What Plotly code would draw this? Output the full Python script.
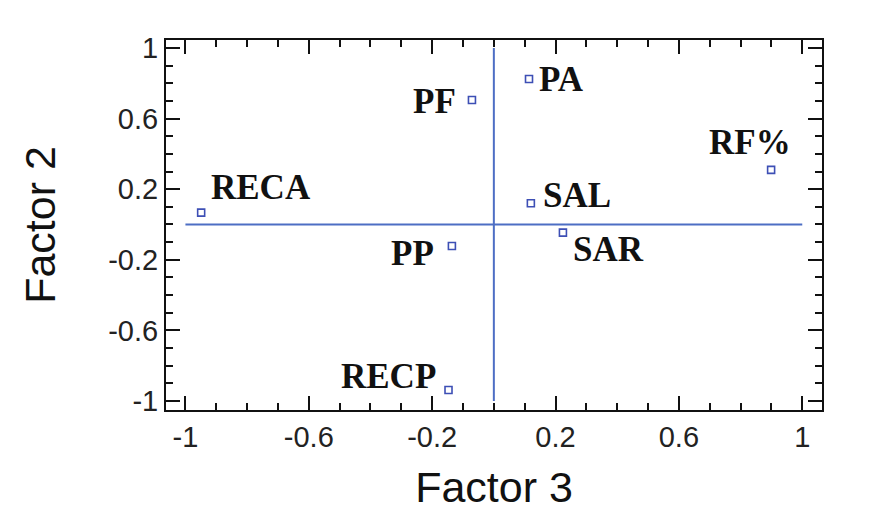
import plotly.graph_objects as go

# Data
variables = ["RECA", "PF", "PA", "RF%", "SAL", "SAR", "PP", "RECP"]
factor3 = [-0.949, -0.071, 0.114, 0.899, 0.120, 0.224, -0.136, -0.147]
factor2 = [0.067, 0.705, 0.824, 0.309, 0.120, -0.046, -0.122, -0.938]

tick_values = [-1, -0.6, -0.2, 0.2, 0.6, 1]
tick_labels = ["-1", "-0.6", "-0.2", "0.2", "0.6", "1"]
ref_extent = [-1, 1]

# label placement (anchor, xshift, yshift) in pixels
label_place = {
    "RECA": ("left", 8, 25),
    "PF": ("right", -14, -1),
    "PA": ("left", 8, 0),
    "RF%": ("center", -21, 27),
    "SAL": ("left", 10, 8),
    "SAR": ("left", 8, -17),
    "PP": ("right", -16, -7),
    "RECP": ("right", -11, 14),
}

blue_pt = "#3d4fb5"
blue_ln = "#4d6ec4"

fig = go.Figure()
fig.add_trace(go.Scatter(x=ref_extent, y=[0, 0], mode="lines",
                         line=dict(color=blue_ln, width=2), hoverinfo="skip"))
fig.add_trace(go.Scatter(x=[0, 0], y=ref_extent, mode="lines",
                         line=dict(color=blue_ln, width=2), hoverinfo="skip"))
fig.add_trace(go.Scatter(x=factor3, y=factor2, mode="markers",
                         marker=dict(symbol="square-open", size=7, color=blue_pt,
                                     line=dict(width=1.6, color=blue_pt)),
                         text=variables))

for name, xv, yv in zip(variables, factor3, factor2):
    anc, xs, ys = label_place[name]
    fig.add_annotation(x=xv, y=yv, text="<b>" + name + "</b>", showarrow=False,
                       xanchor=anc, yanchor="middle", xshift=xs, yshift=ys,
                       font=dict(family="Liberation Serif", size=35, color="#111"))

axis_common = dict(
    showgrid=False, zeroline=False, showline=True, linecolor="#111", linewidth=2,
    mirror="ticks", ticks="inside", ticklen=14, tickwidth=2, tickcolor="#111",
    tickmode="array", tickvals=tick_values, ticktext=tick_labels,
    tickfont=dict(family="Liberation Sans", size=29, color="#222"),
    minor=dict(tickmode="linear", tick0=-1, dtick=0.1, ticks="inside",
               ticklen=7, tickwidth=2, tickcolor="#111"),
)

fig.update_layout(
    width=871, height=525, showlegend=False,
    paper_bgcolor="white", plot_bgcolor="white",
    margin=dict(l=166, r=49, t=40, b=115),
    xaxis=dict(range=[-1.063, 1.064],
               title=dict(text="Factor 3", standoff=20,
                          font=dict(family="Liberation Sans", size=43, color="#111")),
               **axis_common),
    yaxis=dict(range=[-1.051, 1.045],
               title=dict(text="Factor 2", standoff=39,
                          font=dict(family="Liberation Sans", size=43, color="#111")),
               **axis_common),
)

fig.write_html("out.html")
